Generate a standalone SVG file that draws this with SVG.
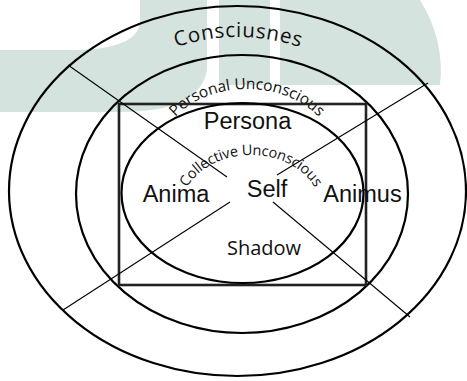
<svg xmlns="http://www.w3.org/2000/svg" width="467" height="381" viewBox="0 0 467 381">
<style>
.logo{fill:#d4e3dd;}
.ring{fill:none;stroke:#000;stroke-width:2.2;}
.box{fill:none;stroke:#222;stroke-width:2.6;}
.diag{stroke:#000;stroke-width:1.1;}
.lbl{font-family:"Liberation Sans",Arial,sans-serif;font-size:23.5px;fill:#111;text-anchor:middle;}
.arc{font-family:"Open Sans","Liberation Sans",sans-serif;fill:#111;}
</style>
<defs>
<path id="pConsc" d="M 160,53 Q 238,21 316,53"/>
<path id="pPers" d="M 162,150 A 85 61 0 0 1 332,150"/>
<path id="pColl" d="M 181,210 A 70 55 0 0 1 321,210"/>
</defs>
<rect width="467" height="381" fill="#fff"/>
<g id="watermark">
<path class="logo" fill-rule="evenodd" d="M0,0 H207 V70 Q200,112 120,112 H0 Z M0,0 H140 V20 Q140,50 70,50 H0 Z"/>
<rect class="logo" x="219" y="0" width="51" height="85"/>
<path class="logo" d="M280,0 H420 Q445,40 440,85 H280 Z"/>
</g>
<g id="consciousness">
<ellipse class="ring" cx="237.5" cy="191" rx="228.5" ry="185"/>
<text class="arc" font-size="20.5"><textPath href="#pConsc" startOffset="50%" text-anchor="middle" textLength="126">Consciusnes</textPath></text>
</g>
<g id="personal-unconscious">
<ellipse class="ring" cx="242" cy="194" rx="166" ry="139"/>
<text class="arc" font-size="15.5"><textPath href="#pPers" startOffset="50%" text-anchor="middle" textLength="158">Personal Unconscious</textPath></text>
</g>
<g id="persona-box">
<rect class="box" x="119" y="104" width="247" height="181"/>
<text class="lbl" x="247.5" y="129">Persona</text>
</g>
<g id="collective-unconscious">
<ellipse class="ring" cx="242.5" cy="193" rx="121" ry="90"/>
<text class="arc" font-size="14.5"><textPath href="#pColl" startOffset="50%" text-anchor="middle" textLength="150">Collective Unconscious</textPath></text>
</g>
<g id="connectors">
<line class="diag" x1="68" y1="65" x2="227" y2="177"/>
<line class="diag" x1="428" y1="83" x2="277" y2="175"/>
<line class="diag" x1="63" y1="310" x2="230" y2="202"/>
<line class="diag" x1="410" y1="317" x2="273" y2="202"/>
</g>
<g id="anima"><text class="lbl" x="176" y="202">Anima</text></g>
<g id="self"><text class="lbl" x="267" y="197">Self</text></g>
<g id="animus"><text class="lbl" x="362.5" y="202">Animus</text></g>
<g id="shadow"><text class="arc" font-size="20" x="264" y="255" text-anchor="middle">Shadow</text></g>
</svg>
